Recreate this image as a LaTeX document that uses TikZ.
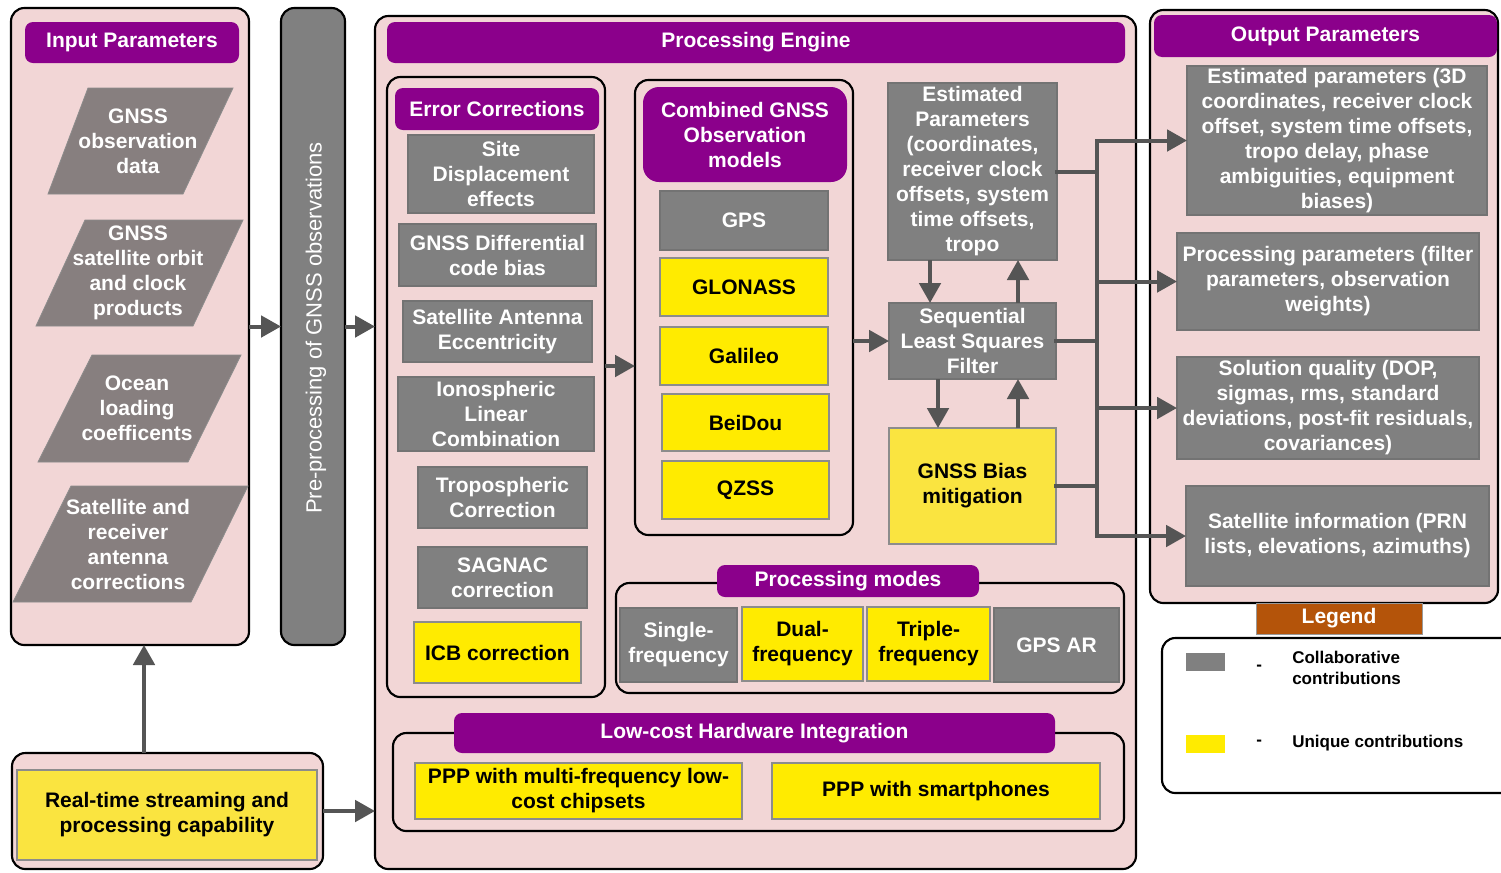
\documentclass[tikz,border=0pt]{standalone}
\usepackage{fontspec}
\setmainfont{Liberation Sans}
\usetikzlibrary{arrows.meta,calc}
\definecolor{pinkbg}{RGB}{242,214,214}
\definecolor{purp}{RGB}{139,0,139}
\definecolor{boxgray}{RGB}{128,128,128}
\definecolor{paragray}{RGB}{135,127,127}
\definecolor{ylw}{RGB}{255,235,0}
\definecolor{ylwsoft}{RGB}{250,228,64}
\definecolor{arrgray}{RGB}{85,85,85}
\definecolor{legbrown}{RGB}{180,84,10}
\newcommand\mybox[7]{\node[#6, minimum width={(#4-#2)*0.75pt}, minimum height={(#5-#3)*0.75pt}] (#1) at ({(#2+#4)/2},{(#3+#5)/2}) {#7};}
\tikzset{
 base/.style={font=\fontsize{15.75}{18.75}\selectfont\bfseries, align=center, inner sep=0pt, outer sep=0pt},
 grp/.style={draw=black, line width=1.6pt, rounded corners=10pt, fill=pinkbg, inner sep=0pt, outer sep=0pt},
 ttl/.style={base, fill=purp, text=white, rounded corners=6pt},
 gbox/.style={base, fill=boxgray, draw=black!55, line width=0.8pt, text=white},
 ybox/.style={base, fill=ylw, draw=black!45, line width=0.8pt, text=black},
 ysoft/.style={base, fill=ylwsoft, draw=black!45, line width=0.8pt, text=black},
 para/.style={fill=paragray, draw=black!45, line width=0.6pt},
 ptxt/.style={base, text=white},
 arr/.style={draw=arrgray, line width=3pt, -{Triangle[length=15pt,width=16pt]}},
 bus/.style={draw=arrgray, line width=3pt, line cap=rect},
 legtxt/.style={font=\fontsize{12.75}{15.75}\selectfont\bfseries, align=left, inner sep=0pt, anchor=west},
}
\begin{document}
\begin{tikzpicture}[x=0.75pt,y=-0.75pt]
\useasboundingbox (0,0) rectangle (1501,872);
\clip (0,0) rectangle (1501,872);
\fill[white] (0,0) rectangle (1501,872);
% ---------------- groups
\mybox{inbox}{11}{8}{249}{645}{grp}{}
\mybox{bar}{281}{8}{345}{645}{grp, fill=boxgray}{}
\mybox{rt}{12}{753}{323}{869}{grp}{}
\mybox{engine}{375}{16}{1136}{869}{grp}{}
\mybox{outg}{1150}{10}{1498}{603}{grp}{}
\mybox{legbox}{1162}{638}{1530}{793}{grp, fill=white}{}
\mybox{errg}{387}{77}{605}{697}{grp}{}
\mybox{combg}{635}{80}{853}{535}{grp}{}
\mybox{modeg}{616}{583}{1124}{693}{grp}{}
\mybox{lowg}{393}{733}{1124}{831}{grp}{}
% ---------------- input parameters
\mybox{intitle}{25}{22}{239}{63}{ttl}{Input Parameters}
\draw[para] (88,88) -- (233,88) -- (183,194) -- (48,194) -- cycle;
\node[ptxt] (p1) at (138,141) {GNSS\\observation\\data};
\draw[para] (85,220) -- (243,220) -- (193,326) -- (36,326) -- cycle;
\node[ptxt] (p2) at (138,273) {GNSS\\satellite orbit\\and clock\\products};
\draw[para] (92,355) -- (241,355) -- (188,462) -- (38,462) -- cycle;
\node[ptxt] (p3) at (137,408) {Ocean\\loading\\coefficents};
\draw[para] (71,486) -- (248,486) -- (191,602) -- (13,602) -- cycle;
\node[ptxt] (p4) at (128,544) {Satellite and\\receiver\\antenna\\corrections};
\node[rotate=90, text=white, font=\fontsize{16.5}{20}\selectfont, inner sep=0pt] (pretxt) at (316,328) {Pre-processing of GNSS observations};
\mybox{rtin}{17}{770}{317}{860}{ysoft}{Real-time streaming and\\processing capability}
% ---------------- processing engine
\mybox{engtitle}{387}{22}{1125}{63}{ttl}{Processing Engine}
\mybox{errtitle}{395}{88}{599}{130}{ttl}{Error Corrections}
\mybox{site}{408}{135}{594}{213}{gbox}{Site\\Displacement\\effects}
\mybox{dcb}{399}{224}{596}{286}{gbox}{GNSS Differential\\code bias}
\mybox{satant}{403}{301}{592}{362}{gbox}{Satellite Antenna\\Eccentricity}
\mybox{iono}{398}{377}{594}{451}{gbox}{Ionospheric\\Linear\\Combination}
\mybox{tropo}{418}{467}{587}{528}{gbox}{Tropospheric\\Correction}
\mybox{sagnac}{418}{547}{587}{608}{gbox}{SAGNAC\\correction}
\mybox{icb}{414}{622}{581}{683}{ybox}{ICB correction}
\mybox{combtitle}{643}{87}{847}{182}{ttl, rounded corners=12pt}{Combined GNSS\\Observation\\models}
\mybox{gps}{660}{191}{828}{250}{gbox}{GPS}
\mybox{glo}{660}{258}{828}{316}{ybox}{GLONASS}
\mybox{gal}{660}{327}{828}{385}{ybox}{Galileo}
\mybox{bds}{662}{394}{829}{451}{ybox}{BeiDou}
\mybox{qzss}{662}{461}{829}{519}{ybox}{QZSS}
\mybox{est}{888}{83}{1057}{260}{gbox}{Estimated\\Parameters\\(coordinates,\\receiver clock\\offsets, system\\time offsets,\\tropo}
\mybox{sls}{889}{303}{1056}{379}{gbox}{Sequential\\Least Squares\\Filter}
\mybox{bias}{889}{428}{1056}{544}{ysoft}{GNSS Bias\\mitigation}
\mybox{modetitle}{717}{565}{979}{597}{ttl}{Processing modes}
\mybox{single}{620}{608}{737}{682}{gbox}{Single-\\frequency}
\mybox{dual}{742}{607}{863}{681}{ybox}{Dual-\\frequency}
\mybox{triple}{867}{607}{990}{681}{ybox}{Triple-\\frequency}
\mybox{gpsar}{994}{608}{1119}{682}{gbox}{GPS AR}
\mybox{lowtitle}{454}{713}{1055}{753}{ttl}{Low-cost Hardware Integration}
\mybox{pppmf}{415}{763}{742}{819}{ybox}{PPP with multi-frequency low-\\cost chipsets}
\mybox{pppsp}{772}{763}{1100}{819}{ybox}{PPP with smartphones}
% ---------------- output
\mybox{outtitle}{1154}{15}{1497}{57}{ttl}{Output Parameters}
\mybox{out1}{1187}{66}{1487}{215}{gbox}{Estimated parameters (3D\\coordinates, receiver clock\\offset, system time offsets,\\tropo delay, phase\\ambiguities, equipment\\biases)}
\mybox{out2}{1177}{233}{1479}{330}{gbox}{Processing parameters (filter\\parameters, observation\\weights)}
\mybox{out3}{1177}{357}{1479}{459}{gbox}{Solution quality (DOP,\\sigmas, rms, standard\\deviations, post-fit residuals,\\covariances)}
\mybox{out4}{1186}{486}{1489}{586}{gbox}{Satellite information (PRN\\lists, elevations, azimuths)}
% ---------------- legend
\mybox{legtitle}{1256}{603}{1422}{634}{base, fill=legbrown, text=white, draw=black!40, line width=0.6pt}{Legend}
\mybox{sw1}{1186}{653}{1225}{671}{fill=boxgray, inner sep=0pt}{}
\mybox{sw2}{1186}{735}{1225}{753}{fill=ylw, inner sep=0pt}{}
\node[legtxt] (d1) at (1256,668) {-};
\node[legtxt] (d2) at (1256,743) {-};
\node[legtxt] (l1) at (1292,668) {Collaborative\\contributions};
\node[legtxt] (l2) at (1292,743) {Unique contributions};
% ---------------- connectors
\coordinate (upx) at (144,0);
\coordinate (ey) at (0,366);
\coordinate (dx1) at (930,0);
\coordinate (ux1) at (1018,0);
\coordinate (dx2) at (938,0);
\coordinate (busx) at (1097,0);
\draw[arr] (inbox.east) -- (bar.west);
\draw[arr] (bar.east) -- (bar.east -| engine.west);
\draw[arr] (rt.east) -- (rt.east -| engine.west);
\draw[arr] (rt.north -| upx) -- (inbox.south -| upx);
\draw[arr] (errg.east |- ey) -- (combg.west |- ey);
\draw[arr] (sls.west -| combg.east) -- (sls.west);
\draw[arr] (est.south -| dx1) -- (sls.north -| dx1);
\draw[arr] (sls.north -| ux1) -- (est.south -| ux1);
\draw[arr] (sls.south -| dx2) -- (bias.north -| dx2);
\draw[arr] (bias.north -| ux1) -- (sls.south -| ux1);
\draw[bus] (est.east) -- (est.east -| busx);
\draw[bus] (sls.east) -- (sls.east -| busx);
\draw[bus] (bias.east) -- (bias.east -| busx);
\draw[bus] (out1.west -| busx) -- (out4.west -| busx);
\draw[arr] (out1.west -| busx) -- (out1.west);
\draw[arr] (out2.west -| busx) -- (out2.west);
\draw[arr] (out3.west -| busx) -- (out3.west);
\draw[arr] (out4.west -| busx) -- (out4.west);
\end{tikzpicture}
\end{document}
